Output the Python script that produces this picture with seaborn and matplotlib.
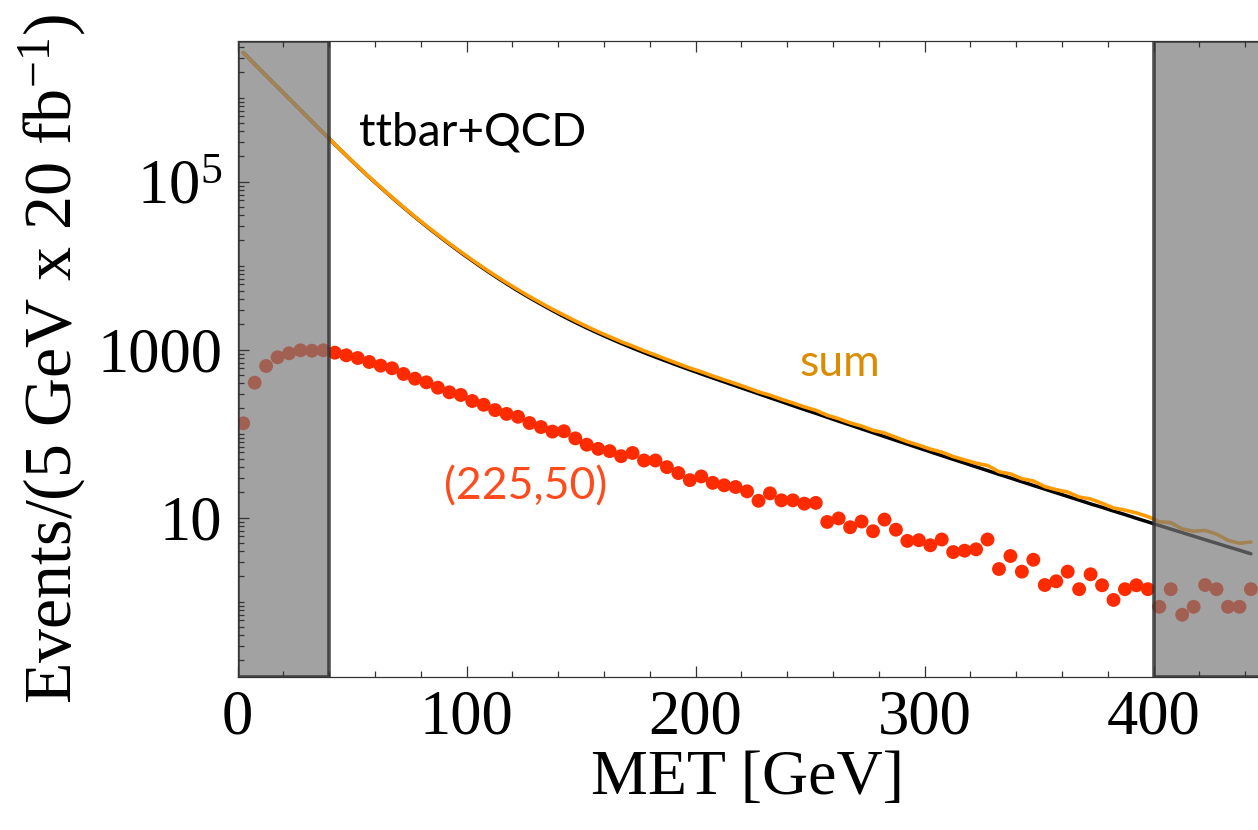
import numpy as np
import matplotlib
matplotlib.use("Agg")
import matplotlib.pyplot as plt
from matplotlib.ticker import FixedLocator, FixedFormatter, MultipleLocator, LogLocator, NullFormatter
import seaborn as sns

# MET bin centres (5 GeV bins)
met = np.arange(2.5, 445.0, 5.0)

# ttbar+QCD background, events per bin
background = [
    3.44e6, 2.51e6, 1.83e6, 1.34e6, 9.77e5, 7.14e5, 5.21e5, 3.81e5,
    2.78e5, 2.05e5, 1.517e5, 1.132e5, 8.53e4, 6.46e4, 4.93e4, 3.79e4,
    2.94e4, 2.30e4, 1.807e4, 1.432e4, 1.146e4, 9.20e3, 7.46e3, 6.10e3,
    5.01e3, 4.16e3, 3.48e3, 2924, 2477, 2113, 1816, 1570,
    1365, 1191, 1047, 923, 817, 726, 646, 577,
    515, 461, 414, 371, 333, 299, 268, 241,
    216, 194, 175, 157, 141, 127, 114.2, 102.8,
    92.5, 83.3, 75.1, 67.6, 60.9, 54.9, 49.5, 44.7,
    40.3, 36.4, 32.8, 29.7, 26.8, 24.2, 21.9, 19.8,
    17.9, 16.2, 14.6, 13.3, 12.0, 10.9, 9.84, 8.92,
    8.08, 7.33, 6.65, 6.03, 5.47, 4.97, 4.51, 4.10, 3.72,
]

# signal point (225,50), events per bin
signal = [
    133, 405, 640, 813, 906, 984, 973, 984,
    921, 857, 796, 714, 646, 601, 514, 452,
    409, 353, 311, 289, 245, 221, 191, 172,
    159, 134, 120, 106, 107, 88, 74, 66,
    62, 54, 59, 48, 48, 40, 34, 28,
    31, 26, 24.3, 23.2, 20.6, 15.9, 19.5, 16.1,
    16.1, 14.7, 15.0, 8.9, 9.8, 7.7, 9.0, 6.9,
    9.5, 7.2, 5.3, 5.4, 4.7, 5.5, 3.9, 4.05,
    4.2, 5.5, 2.45, 3.5, 2.28, 3.16, 1.58, 1.75,
    2.28, 1.41, 2.12, 1.57, 1.05, 1.41, 1.57, 1.41,
    0.87, 1.41, 0.70, 0.87, 1.58, 1.41, 0.87, 0.87, 1.41,
]

total = np.asarray(background) + np.asarray(signal)

# excluded MET windows
cut_windows = [(0, 40), (400, 460)]

y_ticks = [10, 1000, 1e5]
y_tick_labels = ["10", "1000", "$10^5$"]

sns.set_theme(style="ticks")
plt.rcParams["font.family"] = ["Liberation Serif", "DejaVu Serif"]
plt.rcParams["mathtext.fontset"] = "custom"
plt.rcParams["mathtext.rm"] = "Liberation Serif"
plt.rcParams["mathtext.it"] = "Liberation Serif:italic"
plt.rcParams["mathtext.default"] = "regular"
for key in ("text.color", "axes.labelcolor", "xtick.labelcolor", "ytick.labelcolor"):
    plt.rcParams[key] = "black"

W, H = 1258, 830
fig = plt.figure(figsize=(W / 100, H / 100), dpi=100)
x0, x1, ytop, ybot = 237.5, 1258, 41, 677
ax = fig.add_axes([x0 / W, 1 - ybot / H, (x1 - x0) / W, (ybot - ytop) / H])

sns.lineplot(x=met, y=background, color="black", lw=2.5, ax=ax, zorder=2)
sns.lineplot(x=met, y=total, color="#ff9a00", lw=2.6, ax=ax, zorder=2.05)
sns.scatterplot(x=met, y=signal, color="#ff2b00", s=100, linewidth=0,
                edgecolor="none", ax=ax, zorder=2.1)

ax.set_yscale("log")
ax.set_xlim(0, 445.6)
ax.set_ylim(0.127, 4.73e6)

for lo, hi in cut_windows:
    ax.axvspan(lo, hi, facecolor=(0.475, 0.475, 0.475, 0.69),
               edgecolor=(0.2, 0.2, 0.2, 0.85), lw=2.6, zorder=2.4)

ax.set_axisbelow(False)
ax.xaxis.set_major_locator(MultipleLocator(100))
ax.xaxis.set_minor_locator(MultipleLocator(20))
ax.yaxis.set_major_locator(FixedLocator(y_ticks))
ax.yaxis.set_major_formatter(FixedFormatter(y_tick_labels))
ax.yaxis.set_minor_locator(LogLocator(base=10, subs=np.arange(1, 10), numticks=100))
ax.yaxis.set_minor_formatter(NullFormatter())

ax.tick_params(which="both", direction="in", top=True, right=False,
               color="#333333", width=0.9)
ax.tick_params(which="major", length=8, labelsize=45, pad=9)
ax.tick_params(which="minor", length=4)
ax.tick_params(axis="y", which="major", pad=11)

for side in ("left", "top", "bottom"):
    ax.spines[side].set_color("#333333")
    ax.spines[side].set_linewidth(0.9)
ax.spines["right"].set_visible(False)

ax.set_xlabel("MET [GeV]", fontsize=46, labelpad=2)
ax.set_ylabel("Events/(5 GeV x 20 fb$^{-1}$)", fontsize=49, labelpad=6)

label_font = "Lato"
ax.text(53.0, 2.73e5, "ttbar+QCD", fontsize=33, family=label_font,
        color="black", ha="left", va="baseline", zorder=3)
ax.text(245.6, 486, "sum", fontsize=32, family=label_font,
        color="#dc8c00", ha="left", va="baseline", zorder=3)
ax.text(90.0, 16.3, "(225,50)", fontsize=32, family=label_font,
        color="#ff4a1c", ha="left", va="baseline", zorder=3)

fig.savefig("out.png", dpi=100)
